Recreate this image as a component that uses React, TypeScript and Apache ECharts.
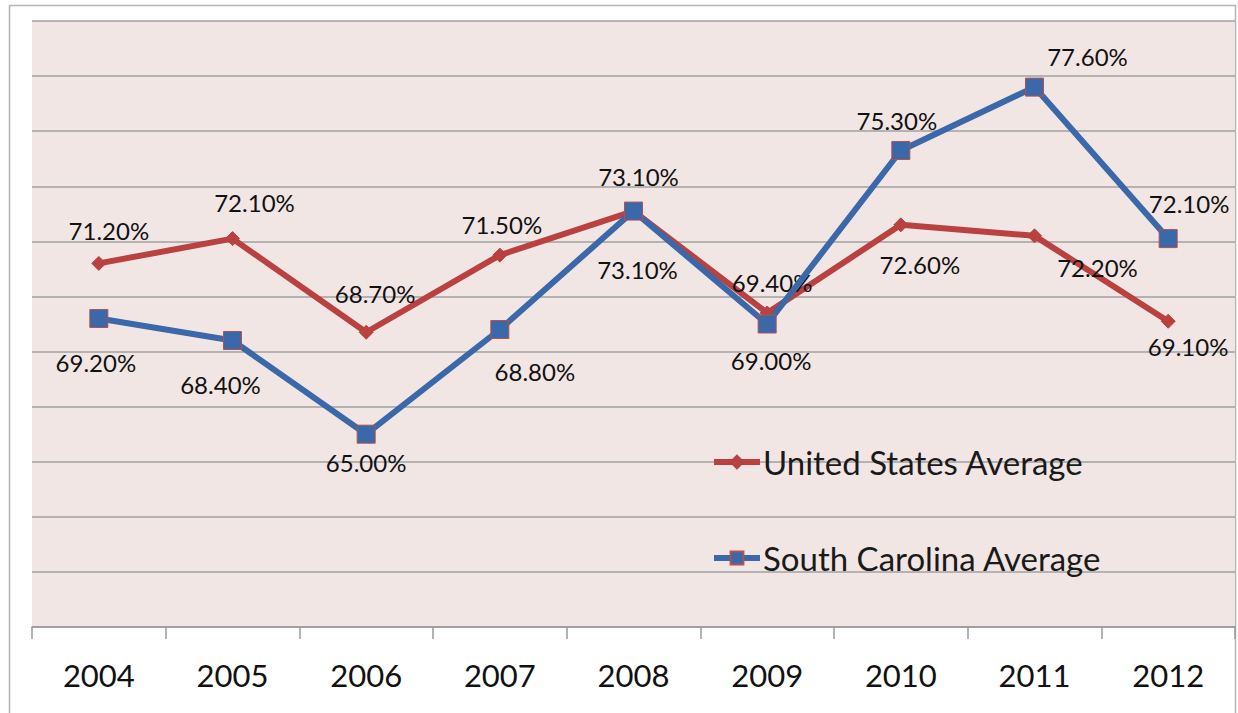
import React, { useEffect, useRef } from "react";
import * as echarts from "echarts";

const years = ["2004", "2005", "2006", "2007", "2008", "2009", "2010", "2011", "2012"];
const usAverage = [71.2, 72.1, 68.7, 71.5, 73.1, 69.4, 72.6, 72.2, 69.1];
const scAverage = [69.2, 68.4, 65.0, 68.8, 73.1, 69.0, 75.3, 77.6, 72.1];

// label offsets (dx, dy) from each point, in pixels
const usLabelOffsets = [
  [10, -33], [22, -36], [9, -39], [2, -31], [5, -35], [5, -30], [19, 40], [63, 32], [20, 25],
];
const scLabelOffsets = [
  [-3, 44], [-12, 44], [0, 28], [35, 42], [4, 58], [4, 36], [-4, -30], [53, -31], [21, -35],
];

const FONT = "Lato, 'Open Sans', sans-serif";

export default function App() {
  const ref = useRef<HTMLDivElement>(null);

  useEffect(() => {
    if (!ref.current) return;
    const chart = echarts.init(ref.current, undefined, { renderer: "svg" });

    const mkData = (vals: number[], offs: number[][]) =>
      vals.map((v, i) => ({
        value: v,
        label: {
          show: true,
          position: "inside",
          offset: offs[i],
          formatter: (p: any) => p.value.toFixed(2) + "%",
          fontSize: 24,
          fontFamily: FONT,
          color: "#111111",
        },
      }));

    chart.setOption({
      animation: false,
      backgroundColor: "#ffffff",
      textStyle: { fontFamily: FONT },
      graphic: [
        {
          type: "rect",
          shape: { x: 9.5, y: 5.5, width: 1226, height: 730 },
          style: { fill: "none", stroke: "#b4b4b4", lineWidth: 1.5 },
          silent: true,
          z: -1,
        },
      ],
      grid: {
        left: 32,
        top: 21,
        right: 3,
        bottom: 86,
        show: true,
        backgroundColor: "#F2E6E5",
        borderWidth: 0,
      },
      legend: {
        orient: "vertical",
        left: 706,
        top: 438,
        itemWidth: 46,
        itemHeight: 16,
        itemGap: 58,
        data: ["United States Average", "South Carolina Average"],
        lineStyle: { width: 6 },
        textStyle: {
          fontSize: 33,
          fontFamily: FONT,
          color: "#1a1a1a",
          lineHeight: 38,
          padding: [0, 0, 0, -2],
        },
      },
      xAxis: {
        type: "category",
        data: years,
        boundaryGap: true,
        axisLine: { show: true, lineStyle: { color: "#9a9a9a", width: 1.5 } },
        axisTick: { show: true, length: 12, lineStyle: { color: "#9a9a9a", width: 1.5 } },
        axisLabel: { fontSize: 31, fontFamily: FONT, color: "#111111", margin: 32 },
        splitLine: { show: false },
      },
      yAxis: {
        type: "value",
        min: 58,
        max: 80,
        interval: 2,
        axisLine: { show: false },
        axisTick: { show: false },
        axisLabel: { show: false },
        splitLine: { show: true, lineStyle: { color: "#a0a0a0", width: 1.5 } },
      },
      series: [
        {
          name: "United States Average",
          type: "line",
          data: mkData(usAverage, usLabelOffsets),
          symbol: "diamond",
          symbolSize: 14,
          lineStyle: { color: "#B9413F", width: 6 },
          itemStyle: { color: "#B9413F", borderColor: "#B9413F", borderWidth: 1 },
          z: 2,
        },
        {
          name: "South Carolina Average",
          type: "line",
          data: mkData(scAverage, scLabelOffsets),
          symbol: "rect",
          symbolSize: 18,
          lineStyle: { color: "#3A68A8", width: 6 },
          itemStyle: { color: "#3A68A8", borderColor: "#B4514E", borderWidth: 1 },
          z: 3,
        },
      ],
    });

    return () => chart.dispose();
  }, []);

  return (
    <div
      ref={ref}
      style={{ position: "absolute", left: 0, top: 0, width: 1238, height: 713 }}
    />
  );
}
